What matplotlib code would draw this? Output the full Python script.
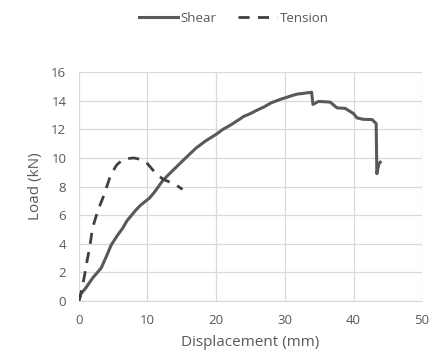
import matplotlib.pyplot as plt

shear_x = [0, 0.3, 1, 2, 3.25, 4, 4.7, 5.5, 6.4, 7, 8.3, 9, 10.3, 11, 12.2, 13, 14.7, 16,
           17.1, 18.5, 20, 21, 22.1, 23.4, 24, 25.0, 26, 27.0, 28, 29.4, 31, 31.8, 32.5, 33.9,
           34.1, 34.9, 36.6, 37.6, 38.8, 40.0, 40.5, 41.4, 42.7, 43.3, 43.4, 43.7, 43.9]
shear_y = [0, 0.5, 0.9, 1.6, 2.3, 3.1, 3.9, 4.5, 5.1, 5.6, 6.35, 6.7, 7.2, 7.6, 8.4, 8.8, 9.6,
           10.2, 10.7, 11.2, 11.65, 12.0, 12.3, 12.7, 12.9, 13.1, 13.35, 13.57, 13.85, 14.1,
           14.35, 14.46, 14.5, 14.59, 13.74, 13.95, 13.9, 13.5, 13.46, 13.1, 12.8, 12.7, 12.68,
           12.4, 8.9, 9.6, 9.7]

tension_x = [0, 0.3, 0.8, 1.2, 1.6, 2.0, 2.5, 3.0, 3.5, 4.0, 4.5, 5.0, 5.5, 6.2, 7.0, 8.0,
             9.0, 10.0, 10.7, 11.5, 12.3, 13.3, 14.2, 15.1]
tension_y = [0, 0.5, 1.7, 2.8, 3.8, 5.1, 5.9, 6.6, 7.2, 7.9, 8.6, 9.1, 9.5, 9.8, 9.95, 10.0,
             9.9, 9.6, 9.2, 8.8, 8.5, 8.3, 8.1, 7.8]

plt.rcParams['font.family'] = ['Open Sans', 'DejaVu Sans']
txt = '#595959'

fig = plt.figure(figsize=(4.33, 3.64), dpi=100)
ax = fig.add_axes([0.182, 0.173, 0.793, 0.629])

ax.plot(shear_x, shear_y, color='#595959', lw=2.2, label='Shear')
ax.plot(tension_x, tension_y, color='#404040', lw=2.0, dashes=(4, 3), label='Tension')

ax.set_xlim(0, 50)
ax.set_ylim(0, 16)
ax.set_xticks(range(0, 51, 10))
ax.set_yticks(range(0, 17, 2))
ax.grid(color='#d9d9d9', lw=0.9)
ax.set_axisbelow(True)
for s in ['top', 'right', 'left']:
    ax.spines[s].set_visible(False)
ax.spines['bottom'].set_color('#d9d9d9')
ax.tick_params(length=0, labelsize=9.5, colors=txt, pad=9)
ax.set_xlabel('Displacement (mm)', fontsize=11, color=txt, labelpad=6)
ax.set_ylabel('Load (kN)', fontsize=11, color=txt, labelpad=6)

fig.legend(loc='upper center', bbox_to_anchor=(0.54, 1.0), ncol=2, frameon=False,
           fontsize=9.5, labelcolor=txt, handlelength=3.0, columnspacing=1.6,
           handletextpad=0.2)

fig.savefig('out.png', dpi=100)
